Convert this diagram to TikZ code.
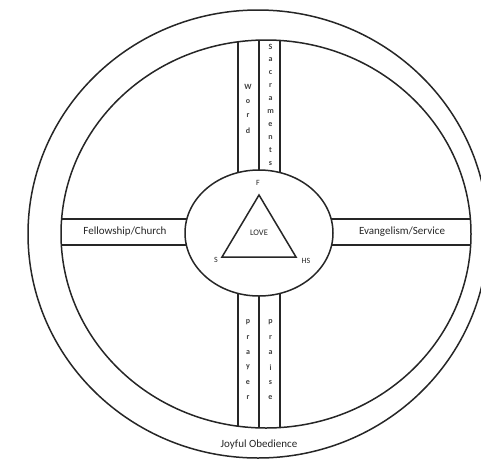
\documentclass[tikz,border=0pt]{standalone}
\usepackage{fontspec}
\setmainfont{Carlito}
\usetikzlibrary{shapes.geometric}
\begin{document}
\begin{tikzpicture}[x=1pt,y=-1pt,
  ln/.style={draw=black!85,line width=1.5pt},
  lbl/.style={inner sep=0pt,font=\fontsize{11}{12}\selectfont,text=black!85},
  vl/.style={inner sep=0pt,font=\fontsize{8}{9}\selectfont\bfseries,text=black!75},
  tl/.style={inner sep=0pt,font=\fontsize{8}{9}\selectfont,text=black!85}]
\useasboundingbox (0,0) rectangle (481,461);
\clip (0,0) rectangle (481,461);
% rims
\draw[ln] (258,234) ellipse [x radius=230pt, y radius=224pt];
\draw[ln] (266,234) ellipse [x radius=205pt, y radius=194pt];
% spokes
\begin{scope}
  \clip (266,234) ellipse [x radius=205pt, y radius=194pt];
  \foreach \xx in {238,259,280} \draw[ln] (\xx,0) -- (\xx,461);
  \foreach \yy in {219,245} \draw[ln] (0,\yy) -- (481,\yy);
\end{scope}
% hub
\node[ln,fill=white,ellipse,minimum width=148pt,minimum height=126pt,inner sep=0pt] (hub) at (259,233) {};
% triangle
\coordinate (F) at (259,195);
\coordinate (S) at (222,257);
\coordinate (HS) at (296,257);
\draw[ln,line join=miter] (F) -- (S) -- (HS) -- cycle;
\node[tl] (lf) at (258,183) {F};
\node[tl] (ls) at (216,260) {S};
\node[tl] (lhs) at (306,261) {HS};
\node[lbl,font=\fontsize{8.5}{10}\selectfont] (love) at (259,233) {LOVE};
% spoke labels
\node[lbl] (fel) at (125,232) {Fellowship/Church};
\node[lbl] (eva) at (402,232) {Evangelism/Service};
\node[lbl] (joy) at (259,445) {Joyful Obedience};
% vertical words
\foreach \c [count=\i from 0] in {W,o,r,d}
  \node[vl] (w\i) at (248,{87+14.5*\i}) {\c};
\foreach \c [count=\i from 0] in {S,a,c,r,a,m,e,n,t,s}
  \node[vl] (s\i) at (270.5,{47+12.9*\i}) {\c};
\foreach \c [count=\i from 0] in {p,r,a,y,e,r}
  \node[vl] (p\i) at (248,{322+15.2*\i}) {\c};
\foreach \c [count=\i from 0] in {p,r,a,i,s,e}
  \node[vl] (q\i) at (270.5,{322+15.2*\i}) {\c};
\end{tikzpicture}
\end{document}
